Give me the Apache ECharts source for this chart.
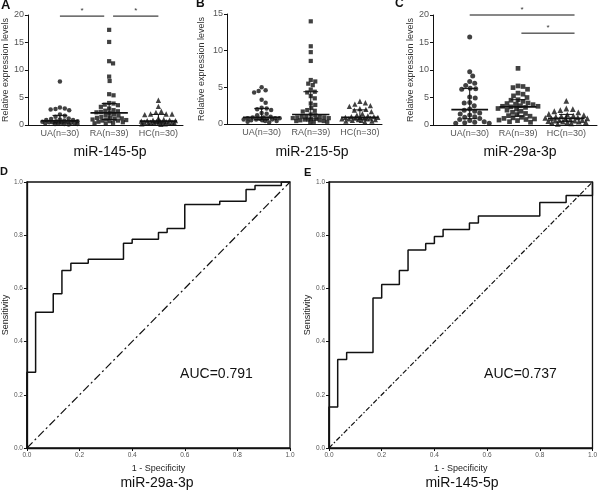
<!DOCTYPE html>
<html><head><meta charset="utf-8">
<script src="https://cdn.jsdelivr.net/npm/echarts@6/dist/echarts.min.js"></script>
<style>html,body{margin:0;padding:0;background:#fff}#c{width:600px;height:490px}</style>
</head><body><div id="c"></div>
<script>
// ---------------- data ----------------
const groupLabels = ['UA(n=30)', 'RA(n=39)', 'HC(n=30)'];

// Panel A: miR-145-5p relative expression
const a_UA = [7.9, 3.2, 3.0, 2.9, 2.8, 2.7, 1.9, 1.7, 1.5, 1.2, 1.1, 1.0, 0.9, 0.9, 0.8, 0.7, 0.7, 0.6, 0.6, 0.5, 0.5, 0.4, 0.4, 0.3, 0.3, 0.3, 0.2, 0.2, 0.2, 0.1];
const a_RA = [17.3, 15.1, 11.6, 11.2, 8.8, 8.0, 5.6, 5.4, 4.0, 3.9, 3.7, 3.6, 3.3, 3.0, 2.7, 2.6, 2.5, 2.4, 2.3, 2.2, 1.9, 1.8, 1.7, 1.5, 1.4, 1.3, 1.2, 1.1, 1.0, 1.0, 0.9, 0.8, 0.8, 0.7, 0.6, 0.5, 0.4, 0.3, 0.2];
const a_HC = [4.5, 3.4, 2.5, 2.3, 2.0, 2.0, 2.0, 1.9, 1.2, 1.0, 0.9, 0.9, 0.8, 0.8, 0.7, 0.7, 0.6, 0.6, 0.5, 0.5, 0.5, 0.4, 0.4, 0.4, 0.3, 0.3, 0.3, 0.2, 0.2, 0.1];
// Panel B: miR-215-5p
const b_UA = [5.0, 4.6, 4.5, 4.3, 3.3, 2.9, 2.2, 2.1, 2.0, 1.9, 1.5, 1.4, 1.2, 1.0, 0.9, 0.9, 0.8, 0.8, 0.8, 0.7, 0.7, 0.6, 0.6, 0.6, 0.5, 0.5, 0.4, 0.4, 0.3, 0.2];
const b_RA = [14.0, 10.6, 9.8, 8.6, 6.0, 5.8, 5.5, 5.3, 4.7, 4.4, 4.3, 3.8, 3.5, 2.8, 2.6, 2.2, 1.9, 1.8, 1.7, 1.3, 1.2, 1.1, 1.0, 1.0, 0.9, 0.9, 0.8, 0.8, 0.7, 0.7, 0.6, 0.6, 0.5, 0.5, 0.4, 0.4, 0.3, 0.3, 0.2];
const b_HC = [3.1, 2.9, 2.7, 2.5, 2.4, 2.1, 2.0, 1.9, 1.7, 1.4, 1.2, 1.1, 1.0, 1.0, 0.9, 0.9, 0.9, 0.8, 0.8, 0.8, 0.7, 0.7, 0.7, 0.6, 0.6, 0.5, 0.5, 0.4, 0.4, 0.3];
// Panel C: miR-29a-3p
const c_UA = [16.0, 9.7, 8.9, 7.9, 7.6, 7.2, 6.7, 6.6, 6.5, 5.1, 4.9, 4.1, 4.0, 3.5, 2.9, 2.7, 2.5, 2.2, 2.0, 1.8, 1.5, 1.4, 1.2, 1.0, 0.8, 0.6, 0.5, 0.4, 0.3, 0.3];
const c_RA = [10.3, 7.1, 7.0, 6.8, 6.5, 5.8, 5.6, 5.3, 5.0, 4.6, 4.5, 4.3, 4.0, 3.9, 3.8, 3.7, 3.5, 3.4, 3.4, 3.3, 3.2, 3.0, 2.9, 2.7, 2.5, 2.3, 2.1, 1.9, 1.7, 1.6, 1.4, 1.3, 1.2, 1.1, 1.0, 0.9, 0.8, 0.6, 0.5];
const c_HC = [4.4, 3.0, 2.9, 2.7, 2.5, 2.3, 2.0, 1.9, 1.8, 1.7, 1.6, 1.5, 1.4, 1.3, 1.2, 1.2, 1.1, 1.0, 0.9, 0.9, 0.8, 0.8, 0.7, 0.6, 0.6, 0.5, 0.5, 0.4, 0.3, 0.2];

// significance comparisons: [fromGroup, toGroup, level]
const sigA = [[1, 2, 19.8], [2, 3, 19.8]];
const sigC = [[1, 3, 20.0], [2, 3, 16.7]];

// ROC curves (1 - specificity, sensitivity) vertices
const rocD_fpr = [0, 0, 0.033, 0.1, 0.133, 0.167, 0.233, 0.367, 0.4, 0.5, 0.533, 0.6, 0.733, 0.833, 0.867, 0.967, 1];
const rocD_tpr = [0, 0.285, 0.51, 0.58, 0.667, 0.695, 0.71, 0.77, 0.785, 0.81, 0.825, 0.915, 0.928, 0.972, 0.987, 1, 1];
const rocE_fpr = [0, 0, 0.033, 0.067, 0.167, 0.2, 0.267, 0.3, 0.367, 0.4, 0.433, 0.533, 0.567, 0.8, 0.9, 1, 1];
const rocE_tpr = [0, 0.154, 0.333, 0.359, 0.564, 0.615, 0.667, 0.744, 0.769, 0.795, 0.821, 0.846, 0.872, 0.923, 0.949, 0.949, 1];
const diag = [0, 1];
const aucD = 'AUC=0.791';
const aucE = 'AUC=0.737';

// ---------------- helpers ----------------
const FONT = '"Liberation Sans", Arial, Helvetica, sans-serif';
const INK = '#111';
const LBL = '#555';

function quantile(vals, p) {
  const s = vals.slice().sort((a, b) => a - b);
  const pos = p * (s.length + 1) - 1;
  const lo = Math.max(0, Math.min(s.length - 1, Math.floor(pos)));
  const hi = Math.max(0, Math.min(s.length - 1, Math.ceil(pos)));
  const f = pos - Math.floor(pos);
  return s[lo] + (s[hi] - s[lo]) * f;
}
// capped beeswarm layout: horizontal offsets computed in pixel space
function swarm(vals, g, pxY, pxX, d, maxHalf) {
  const idx = vals.map((v, i) => i).sort((a, b) => vals[b] - vals[a]);
  const placed = [];
  const out = [];
  for (const i of idx) {
    const y = vals[i] * pxY;
    let off = 0, bestOff = 0, bestDist = -1, found = false;
    const steps = Math.floor(maxHalf / 0.5);
    for (let k = 0; k <= steps * 2; k++) {
      const cand = (k % 2 === 1 ? 1 : -1) * Math.ceil(k / 2) * 0.5;
      let minD = Infinity;
      for (const p of placed) {
        const dx = p[0] - cand, dy = p[1] - y;
        minD = Math.min(minD, Math.sqrt(dx * dx + dy * dy));
      }
      if (minD >= d) { off = cand; found = true; break; }
      if (minD > bestDist + 0.3) { bestDist = minD; bestOff = cand; }
    }
    if (!found) off = bestOff;
    placed.push([off, y]);
    out.push([g + off / pxX, vals[i]]);
  }
  return out;
}

const panels = [
  { grid: { left: 24, top: 15, width: 159, height: 110 }, xr: [0.35, 3.5], ymax: 20, data: [a_UA, a_RA, a_HC], sym: 4.5, sig: sigA, nameGap: 14, sigExt: 0, half: 18 },
  { grid: { left: 227, top: 14, width: 155, height: 110 }, xr: [0.295, 3.45], ymax: 15, data: [b_UA, b_RA, b_HC], sym: 4.5, sig: [], nameGap: 21, sigExt: 0, half: 18 },
  { grid: { left: 433, top: 15, width: 164, height: 110 }, xr: [0.24, 3.635], ymax: 20, data: [c_UA, c_RA, c_HC], sym: 5, sig: sigC, nameGap: 17, sigExt: 0.17, half: 21 }
];
const symbols = ['circle', 'rect', 'triangle'];

const grids = [], xAxes = [], yAxes = [], series = [];

panels.forEach((P, i) => {
  grids.push(Object.assign({ containLabel: false }, P.grid));
  const pxY = P.grid.height / P.ymax;
  const pxX = P.grid.width / (P.xr[1] - P.xr[0]);
  xAxes.push({
    gridIndex: i, type: 'value', min: P.xr[0], max: P.xr[1],
    axisLine: { show: true, onZero: false, lineStyle: { color: INK, width: 1 } },
    axisTick: { show: false },
    splitLine: { show: false },
    axisLabel: {
      customValues: [1, 2, 3], fontSize: 9, color: LBL, margin: 4, fontFamily: FONT,
      formatter: v => groupLabels[Math.round(v) - 1] || ''
    }
  });
  yAxes.push({
    gridIndex: i, type: 'value', min: 0, max: P.ymax, interval: 5,
    name: 'Relative expression levels', nameLocation: 'middle', nameGap: P.nameGap,
    nameTextStyle: { fontSize: 9, color: '#333', fontFamily: FONT },
    axisLine: { show: true, lineStyle: { color: INK, width: 1 } },
    axisTick: { show: true, length: 3, lineStyle: { color: INK } },
    splitLine: { show: false },
    axisLabel: { fontSize: 9, color: LBL, margin: 4, fontFamily: FONT }
  });
  P.data.forEach((vals, g) => {
    const sz = g === 2 ? P.sym + 0.8 : (g === 1 ? P.sym - 0.3 : P.sym);
    series.push({
      type: 'scatter', xAxisIndex: i, yAxisIndex: i, symbol: symbols[g],
      symbolSize: sz,
      itemStyle: { color: INK }, silent: true, z: 2,
      data: swarm(vals, g + 1, pxY, pxX, sz * 1.05, P.half)
    });
  });
  // median + interquartile range
  series.push({
    type: 'custom', xAxisIndex: i, yAxisIndex: i, silent: true, z: 3,
    encode: { x: 0, y: 2 },
    data: P.data.map((vals, g) => [g + 1, quantile(vals, 0.25), quantile(vals, 0.5), quantile(vals, 0.75)]),
    renderItem: (params, api) => {
      const g = api.value(0), q1 = api.value(1), med = api.value(2), q3 = api.value(3);
      const L = api.coord([g - 0.38, med]), R = api.coord([g + 0.38, med]);
      const p1 = api.coord([g, q1]), p3 = api.coord([g, q3]);
      const cw = api.size([0.15, 0])[0];
      const st = { stroke: INK, lineWidth: 1 };
      return {
        type: 'group', children: [
          { type: 'line', shape: { x1: L[0], y1: L[1], x2: R[0], y2: R[1] }, style: { stroke: INK, lineWidth: 1.6 } },
          { type: 'line', shape: { x1: p1[0], y1: p1[1], x2: p3[0], y2: p3[1] }, style: st },
          { type: 'line', shape: { x1: p1[0] - cw, y1: p1[1], x2: p1[0] + cw, y2: p1[1] }, style: st },
          { type: 'line', shape: { x1: p3[0] - cw, y1: p3[1], x2: p3[0] + cw, y2: p3[1] }, style: st }
        ]
      };
    }
  });
  if (P.sig.length) {
    const sigData = P.sig.map(s => {
      let a = s[0], b = s[1] + P.sigExt;
      if (P.sig.some(o => o !== s && o[1] === s[0])) a += 0.08;
      if (P.sig.some(o => o !== s && o[0] === s[1])) b -= 0.1;
      if (P.sigExt && P.sig.some(o => o !== s && o[1] === s[1] && o[0] < s[0])) a += 0.07;
      return [a, b, s[2]];
    });
    series.push({
      type: 'custom', xAxisIndex: i, yAxisIndex: i, silent: true, z: 3, clip: false,
      encode: { x: 0, y: 2 }, data: sigData,
      renderItem: (params, api) => {
        const A = api.coord([api.value(0), api.value(2)]);
        const B = api.coord([api.value(1), api.value(2)]);
        return {
          type: 'group', children: [
            { type: 'line', shape: { x1: A[0], y1: A[1], x2: B[0], y2: B[1] }, style: { stroke: INK, lineWidth: 1 } },
            { type: 'text', x: (A[0] + B[0]) / 2, y: A[1] - 1, style: { text: '*', fontSize: 8, fontFamily: FONT, fill: '#333', align: 'center', verticalAlign: 'bottom' } }
          ]
        };
      }
    });
  }
});

// ROC panels
const rocPanels = [
  { grid: { left: 24, top: 182, width: 266, height: 266 }, fpr: rocD_fpr, tpr: rocD_tpr, nameGap: 14, dash: [8, 3, 2, 3] },
  { grid: { left: 329, top: 182, width: 266, height: 266 }, fpr: rocE_fpr, tpr: rocE_tpr, nameGap: 16, dash: [5, 2, 1.5, 2] }
];
rocPanels.forEach((R, j) => {
  const i = panels.length + j;
  grids.push(Object.assign({ show: true, borderColor: INK, borderWidth: 1.3, backgroundColor: 'transparent' }, R.grid));
  const axisCommon = {
    gridIndex: i, type: 'value', min: 0, max: 1, interval: 0.2,
    nameLocation: 'middle',
    nameTextStyle: { fontSize: 9, color: '#222', fontFamily: FONT },
    axisLine: { show: true, onZero: false, lineStyle: { color: INK, width: 1.3 } },
    axisTick: { show: true, length: 3, lineStyle: { color: INK } },
    splitLine: { show: false },
    axisLabel: { fontSize: 6.5, color: LBL, margin: 4, fontFamily: FONT, formatter: v => v.toFixed(1) }
  };
  xAxes.push(Object.assign({}, axisCommon, { name: '1 - Specificity', nameGap: 14 }));
  yAxes.push(Object.assign({}, axisCommon, { name: 'Sensitivity', nameGap: R.nameGap }));
  series.push({
    type: 'line', xAxisIndex: i, yAxisIndex: i, silent: true, showSymbol: false, z: 3,
    step: 'end', lineStyle: { color: INK, width: 1.5 },
    data: R.fpr.map((x, k) => [x, R.tpr[k]])
  });
  series.push({
    type: 'line', xAxisIndex: i, yAxisIndex: i, silent: true, showSymbol: false, z: 2,
    lineStyle: { color: INK, width: 1.2, type: R.dash },
    data: diag.map(v => [v, v])
  });
});

function txt(text, x, y, size, weight, align) {
  return { type: 'text', x: x, y: y, silent: true,
    style: { text: text, fontSize: size, fontWeight: weight || 'normal', fontFamily: FONT, fill: '#111',
      align: align || 'center', verticalAlign: 'middle' } };
}

const graphic = [
  txt('A', 1, 5, 13, 'bold', 'left'),
  txt('B', 196, 4, 12, 'bold', 'left'),
  txt('C', 395, 4, 12, 'bold', 'left'),
  txt('D', 0, 172, 11, 'bold', 'left'),
  txt('E', 304, 173, 11, 'bold', 'left'),
  txt('miR-145-5p', 110, 152, 14),
  txt('miR-215-5p', 312, 152, 14),
  txt('miR-29a-3p', 520, 152, 14),
  txt('miR-29a-3p', 157, 483, 14),
  txt('miR-145-5p', 462, 483, 14),
  txt(aucD, 216.5, 374, 14),
  txt(aucE, 520.5, 374, 14)
];

const chart = echarts.init(document.getElementById('c'), null, { renderer: 'canvas' });
chart.setOption({
  animation: false,
  backgroundColor: '#fff',
  textStyle: { fontFamily: FONT },
  grid: grids, xAxis: xAxes, yAxis: yAxes, series: series, graphic: graphic
});
</script>
</body></html>
